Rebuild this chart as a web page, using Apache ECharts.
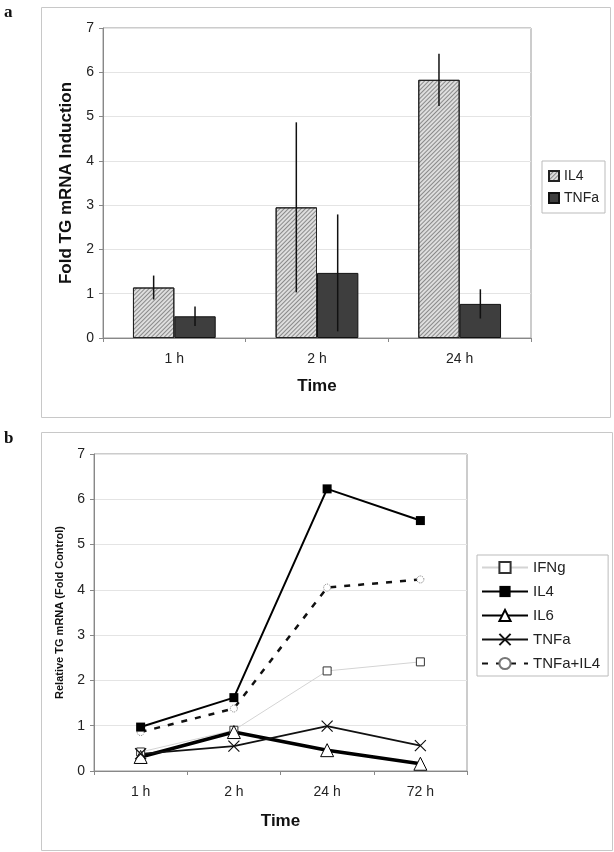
<!DOCTYPE html>
<html lang="en">
<head>
    <meta charset="UTF-8">
    <title>TG mRNA induction</title>
    <style>
        html, body { margin: 0; padding: 0; background: #fff; }
        #chartA { position: absolute; left: 0; top: 0; width: 614px; height: 420px; }
        #chartB { position: absolute; left: 0; top: 420px; width: 614px; height: 432px; }
    </style>
</head>
<body>
<div id="chartA"></div>
<div id="chartB"></div>
<script src="https://cdn.jsdelivr.net/npm/echarts@6/dist/echarts.min.js"></script>
<script>
    // panel a data
    const timesA = ['1 h', '2 h', '24 h'];
    const il4Fold = [1.14, 2.95, 5.83];
    const il4Err = [0.27, 1.92, 0.59];
    const tnfaFold = [0.49, 1.47, 0.77];
    const tnfaErr = [0.22, 1.32, 0.33];

    // panel b data
    const timesB = ['1 h', '2 h', '24 h', '72 h'];
    const ifngRel = [0.42, 0.90, 2.21, 2.41];
    const il4Rel = [0.97, 1.62, 6.23, 5.53];
    const il6Rel = [0.31, 0.86, 0.46, 0.16];
    const tnfaRel = [0.38, 0.55, 0.99, 0.56];
    const tnfaIl4Rel = [0.86, 1.38, 4.05, 4.23];

    const yTicks = [0, 1, 2, 3, 4, 5, 6, 7];

    const font = 'Liberation Sans, Arial, sans-serif';
    const gapFrac = 0.42; // barCategoryGap

    /*panel frame + letter*/
    function frame(x, y, w, h, letter, ly) {
        return [{
            type: 'rect', left: x, top: y,
            shape: { width: w, height: h },
            style: { fill: 'none', stroke: '#c8c8c8', lineWidth: 1 }
        }, {
            type: 'text', left: 4, top: ly,
            style: { text: letter, font: 'bold 17px "Liberation Serif", serif', fill: '#111' }
        }];
    }

    function valueAxis(name, nameSize, nameGap) {
        return {
            type: 'value', min: 0, max: 7, interval: 1,
            name: name, nameLocation: 'middle', nameGap: nameGap,
            nameTextStyle: { fontFamily: font, fontWeight: 'bold', fontSize: nameSize, color: '#111' },
            axisLine: { show: true, lineStyle: { color: '#888' } },
            axisTick: { show: true, length: 4, lineStyle: { color: '#888' } },
            axisLabel: {
                fontFamily: font, fontSize: 14, color: '#222', margin: 9,
                formatter: v => yTicks.indexOf(v) >= 0 ? String(v) : ''
            },
            splitLine: { lineStyle: { color: '#e4e4e4' } }
        };
    }

    function catAxis(data, gap) {
        return {
            type: 'category', data: data,
            name: 'Time', nameLocation: 'middle', nameGap: gap,
            nameTextStyle: { fontFamily: font, fontWeight: 'bold', fontSize: 17, color: '#111' },
            axisLine: { lineStyle: { color: '#888' } },
            axisTick: { show: true, length: 4, lineStyle: { color: '#888' } },
            axisLabel: { fontFamily: font, fontSize: 14, color: '#222', margin: 14 }
        };
    }

    /*error bars drawn on the grouped bar centres*/
    function errBars(vals, errs, side) {
        return vals.map((v, i) => [i, v - errs[i], v + errs[i], side]);
    }
    function renderErr(params, api) {
        const band = api.size([1, 0])[0];
        const off = api.value(3) * band * (1 - gapFrac) / 4;
        const lo = api.coord([api.value(0), api.value(1)]);
        const hi = api.coord([api.value(0), api.value(2)]);
        const x = lo[0] + off;
        return {
            type: 'line',
            shape: { x1: x, y1: lo[1], x2: x, y2: hi[1] },
            style: { stroke: '#111', lineWidth: 1.5 }
        };
    }

    const chartA = echarts.init(document.getElementById('chartA'));
    chartA.setOption({
        animation: false,
        graphic: frame(39, 5, 569, 410, 'a', 4),
        grid: { left: 103, right: 83, top: 28, bottom: 82, show: true, borderColor: '#999', borderWidth: 1 },
        legend: {
            data: ['IL4', 'TNFa'], orient: 'vertical', left: 542, top: 161,
            padding: [8, 6, 8, 6], itemGap: 8, itemWidth: 10, itemHeight: 10, icon: 'rect',
            borderColor: '#bbb', borderWidth: 1,
            textStyle: { fontFamily: font, fontSize: 14, color: '#222' }
        },
        xAxis: catAxis(timesA, 40),
        yAxis: valueAxis('Fold TG mRNA Induction', 17, 28),
        series: [{
            name: 'IL4', type: 'bar', data: il4Fold,
            barGap: '0%', barCategoryGap: (gapFrac * 100) + '%',
            itemStyle: {
                color: '#dedede', borderColor: '#222', borderWidth: 1,
                decal: {
                    symbol: 'rect', symbolSize: 1, color: 'rgba(0,0,0,0.38)',
                    dashArrayX: [1, 0], dashArrayY: [1, 1.2], rotation: -Math.PI / 4
                }
            }
        }, {
            name: 'TNFa', type: 'bar', data: tnfaFold,
            itemStyle: { color: '#3e3e3e', borderColor: '#111', borderWidth: 1 }
        }, {
            type: 'custom', renderItem: renderErr, clip: false, z: 5,
            encode: { x: 0, y: [1, 2] }, data: errBars(il4Fold, il4Err, -1)
        }, {
            type: 'custom', renderItem: renderErr, clip: false, z: 5,
            encode: { x: 0, y: [1, 2] }, data: errBars(tnfaFold, tnfaErr, 1)
        }]
    });

    const chartB = echarts.init(document.getElementById('chartB'));
    chartB.setOption({
        animation: false,
        graphic: frame(39, 10, 571, 418, 'b', 10),
        grid: { left: 94, right: 147, top: 34, bottom: 81, show: true, borderColor: '#999', borderWidth: 1 },
        legend: {
            data: ['IFNg', 'IL4', 'IL6', 'TNFa', 'TNFa+IL4'],
            orient: 'vertical', left: 477, top: 135,
            padding: [5, 8, 5, 4], itemGap: 9, itemWidth: 46, itemHeight: 14,
            borderColor: '#bbb', borderWidth: 1,
            textStyle: { fontFamily: font, fontSize: 15, color: '#222' }
        },
        xAxis: catAxis(timesB, 42),
        yAxis: valueAxis('Relative TG mRNA (Fold Control)', 11, 29),
        series: [{
            name: 'IFNg', type: 'line', data: ifngRel,
            symbol: 'rect', symbolSize: 8,
            lineStyle: { color: '#d4d4d4', width: 1 },
            itemStyle: { color: '#fff', borderColor: '#333', borderWidth: 1 }
        }, {
            name: 'IL6', type: 'line', data: il6Rel,
            symbol: 'triangle', symbolSize: 13,
            lineStyle: { color: '#000', width: 3.5 },
            itemStyle: { color: '#fff', borderColor: '#000', borderWidth: 1 }
        }, {
            name: 'TNFa', type: 'line', data: tnfaRel,
            symbol: 'path://M0,0L10,10M10,0L0,10', symbolSize: 11,
            lineStyle: { color: '#111', width: 1.8 },
            itemStyle: { color: '#111', borderColor: '#111', borderWidth: 1.2 }
        }, {
            name: 'TNFa+IL4', type: 'line', data: tnfaIl4Rel,
            symbol: 'circle', symbolSize: 7,
            lineStyle: { color: '#111', width: 2.5, type: [6, 8] },
            itemStyle: { color: '#fff', borderColor: '#777', borderWidth: 1, borderType: 'dotted' }
        }, {
            name: 'IL4', type: 'line', data: il4Rel,
            symbol: 'rect', symbolSize: 9,
            lineStyle: { color: '#000', width: 2 },
            itemStyle: { color: '#000' }
        }]
    });
</script>
</body>
</html>
